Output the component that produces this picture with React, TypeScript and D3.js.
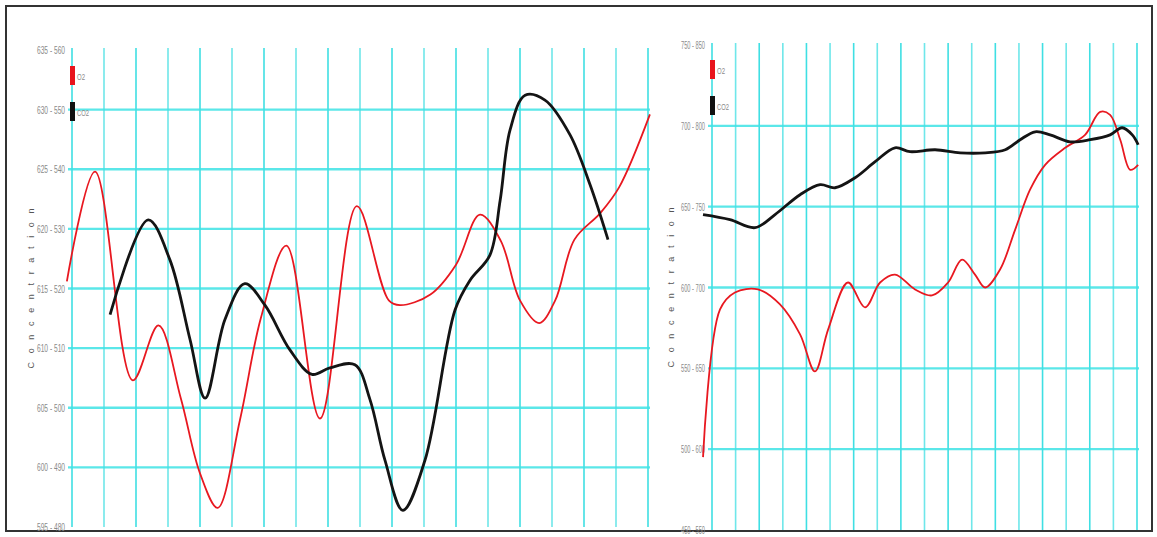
import * as d3 from "d3";

// ---------- left panel data ----------
const leftTicks = [635, 630, 625, 620, 615, 610, 605, 600, 595];
const leftTickLabels = ["635 - 560", "630 - 550", "625 - 540", "620 - 530", "615 - 520", "610 - 510", "605 - 500", "600 - 490", "595 - 480"];
const leftO2X = [-0.16, 0.72, 1.9, 2.7, 3.4, 4.0, 4.55, 5.25, 5.9, 6.7, 7.75, 8.9, 9.9, 10.25, 11.2, 12.0, 12.75, 13.4, 14.0, 14.6, 15.1, 15.7, 16.5, 17.1, 18.06];
const leftO2Y = [615.6, 624.8, 607.3, 611.9, 605.8, 599.5, 596.6, 604.0, 612.5, 618.6, 604.1, 621.9, 614.0, 613.6, 614.5, 617.0, 621.2, 619.0, 614.0, 612.1, 614.0, 619.1, 621.3, 623.5, 629.6];
const leftCO2X = [1.19, 2.38, 3.06, 3.69, 4.16, 4.78, 5.4, 6.03, 6.81, 7.5, 8.06, 8.84, 9.31, 9.78, 10.34, 11.03, 11.97, 12.44, 13.06, 13.38, 13.69, 14.16, 14.78, 15.56, 16.19, 16.75];
const leftCO2Y = [612.8, 620.75, 617.4, 610.7, 605.8, 612.4, 615.4, 613.6, 609.85, 607.8, 608.35, 608.6, 605.7, 600.6, 596.4, 600.6, 613.2, 615.7, 617.8, 622.4, 628.3, 631.2, 630.8, 627.9, 623.7, 619.1];

// ---------- right panel data ----------
const rightTicks = [750, 700, 650, 600, 550, 500, 450];
const rightTickLabels = ["750 - 850", "700 - 800", "650 - 750", "600 - 700", "550 - 650", "500 - 600", "450 - 550"];
const rightO2X = [-0.38, 0.34, 0.97, 1.95, 2.88, 3.73, 4.36, 4.92, 5.76, 6.48, 7.12, 7.75, 8.6, 9.32, 10.0, 10.59, 11.14, 11.57, 12.2, 12.84, 13.47, 14.11, 14.96, 15.8, 16.44, 16.86, 17.29, 17.71, 18.05];
const rightO2Y = [495.1, 586.4, 596.9, 598.8, 589.5, 571.0, 548.1, 574.1, 603.1, 587.7, 603.1, 608.0, 598.8, 595.1, 603.1, 617.3, 608.0, 600.0, 611.1, 635.8, 660.5, 675.9, 686.4, 694.4, 708.6, 706.8, 691.4, 672.8, 675.9];
const rightCO2X = [-0.38, 0.76, 1.82, 2.67, 3.73, 4.58, 5.21, 6.06, 6.91, 7.75, 8.39, 9.45, 10.51, 11.57, 12.42, 13.05, 13.69, 14.32, 15.17, 16.02, 16.86, 17.37, 17.8, 18.05];
const rightCO2Y = [645.1, 642.0, 637.0, 645.1, 657.4, 663.6, 661.7, 667.9, 677.8, 686.4, 684.0, 685.2, 683.3, 683.3, 685.2, 691.4, 696.3, 694.4, 690.1, 691.4, 694.4, 698.8, 694.4, 688.3];

const seriesNames = ["O2", "CO2"];
const gridCols = d3.range(0, 19);

const zip = (xs: number[], ys: number[]) => xs.map((x, i) => [x, ys[i]] as [number, number]);

function Panel({ x0, x1, y0, y1, ticks, tickLabels, o2, co2, labelW, legendY }: any) {
  const x = d3.scaleLinear().domain([0, 18]).range([x0, x1]);
  const y = d3.scaleLinear().domain([ticks[ticks.length - 1], ticks[0]]).range([y1, y0]);
  const line = d3
    .line<[number, number]>()
    .x(d => x(d[0]))
    .y(d => y(d[1]))
    .curve(d3.curveCatmullRom.alpha(0.5));
  const mid = (y0 + y1) / 2;
  return (
    <g>
      {/* vertical grid */}
      {gridCols.map(c => (
        <line key={"v" + c} x1={x(c)} x2={x(c)} y1={y0 - 2} y2={y1} stroke="#3fdfe3" strokeWidth={1.6} opacity={c % 2 ? 0.75 : 1} />
      ))}
      {/* horizontal grid */}
      {ticks.slice(1, -1).map((t: number) => (
        <line key={"h" + t} x1={x0 - 4} x2={x1 + 2} y1={y(t)} y2={y(t)} stroke="#3fe3e6" strokeWidth={2.4} opacity={0.85} />
      ))}
      {/* tick labels */}
      {ticks.map((t: number, i: number) => (
        <text key={"t" + t} x={x0 - 7} y={y(t) + 4} textAnchor="end" fontSize={11} fill="#8a8a8a"
          fontFamily="Liberation Sans, sans-serif" textLength={labelW} lengthAdjust="spacingAndGlyphs">
          {tickLabels[i]}
        </text>
      ))}
      {/* y title */}
      <text transform={`translate(${x0 - 38},${mid}) rotate(-90)`} textAnchor="middle" fontSize={9} fill="#555"
        fontFamily="Liberation Sans, sans-serif" textLength={160} lengthAdjust="spacing">
        Concentration
      </text>
      {/* legend */}
      {seriesNames.map((n, i) => (
        <g key={n} transform={`translate(${x0 - 2},${legendY + i * 36})`}>
          <rect x={0} y={0} width={5} height={19} fill={i === 0 ? "#e8141c" : "#111"} />
          <text x={7} y={14} fontSize={9} fill="#8a8a8a" fontFamily="Liberation Sans, sans-serif"
            textLength={n.length * 4} lengthAdjust="spacingAndGlyphs">{n}</text>
        </g>
      ))}
      {/* series */}
      <path d={line(o2) || ""} fill="none" stroke="#e81820" strokeWidth={1.8} />
      <path d={line(co2) || ""} fill="none" stroke="#141414" strokeWidth={2.8} />
    </g>
  );
}

export default function App() {
  return (
    <svg width={1157} height={537} style={{ position: "absolute", left: 0, top: 0, background: "#fff" }}>
      <rect x={6} y={6} width={1146} height={525} fill="#fff" stroke="#333" strokeWidth={2} />
      <Panel x0={72} x1={648} y0={50} y1={527} ticks={leftTicks} tickLabels={leftTickLabels}
        o2={zip(leftO2X, leftO2Y)} co2={zip(leftCO2X, leftCO2Y)} labelW={28} legendY={66} />
      <Panel x0={712} x1={1137} y0={45} y1={530} ticks={rightTicks} tickLabels={rightTickLabels}
        o2={zip(rightO2X, rightO2Y)} co2={zip(rightCO2X, rightCO2Y)} labelW={24} legendY={60} />
    </svg>
  );
}
